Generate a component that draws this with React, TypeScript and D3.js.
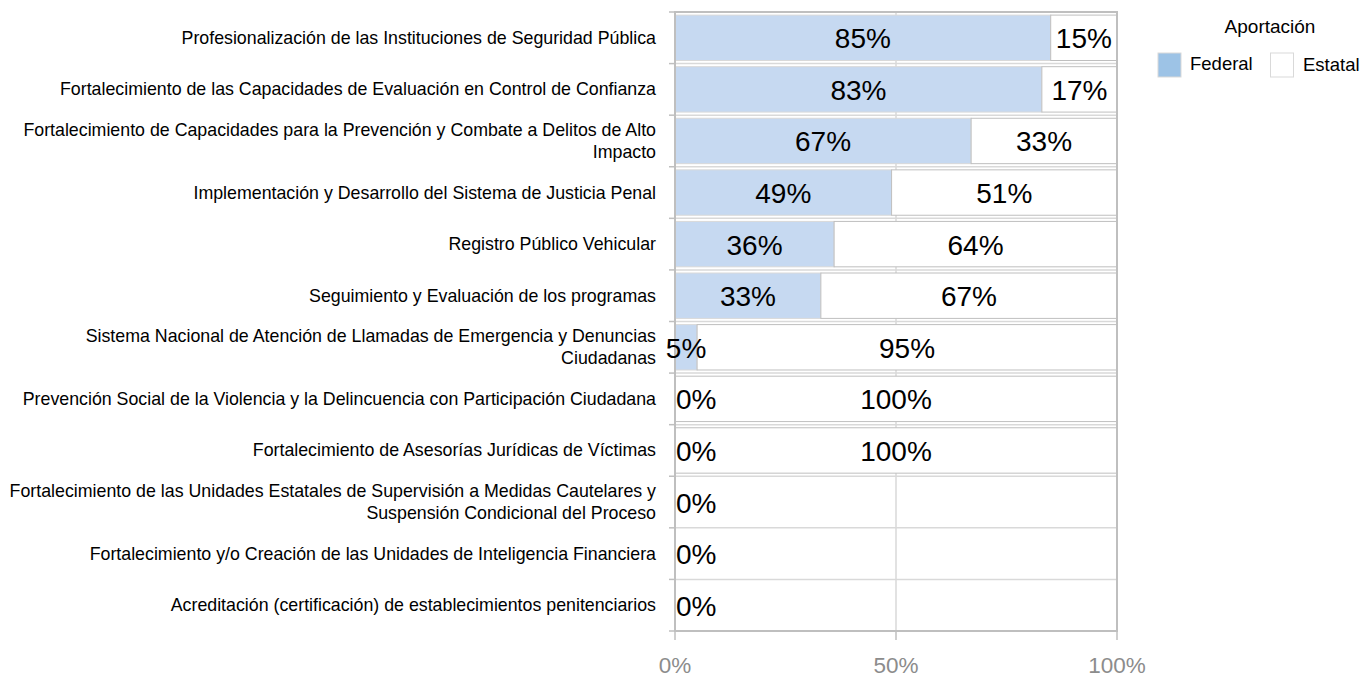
import React from "react";
import * as d3 from "d3";

const categories = [
  "Profesionalización de las Instituciones de Seguridad Pública",
  "Fortalecimiento de las Capacidades de Evaluación en Control de Confianza",
  "Fortalecimiento de Capacidades para la Prevención y Combate a Delitos de Alto\nImpacto",
  "Implementación y Desarrollo del Sistema de Justicia Penal",
  "Registro Público Vehicular",
  "Seguimiento y Evaluación de los programas",
  "Sistema Nacional de Atención de Llamadas de Emergencia y Denuncias\nCiudadanas",
  "Prevención Social de la Violencia y la Delincuencia con Participación Ciudadana",
  "Fortalecimiento de Asesorías Jurídicas de Víctimas",
  "Fortalecimiento de las Unidades Estatales de Supervisión a Medidas Cautelares y\nSuspensión Condicional del Proceso",
  "Fortalecimiento y/o Creación de las Unidades de Inteligencia Financiera",
  "Acreditación (certificación) de establecimientos penitenciarios",
];
const federal = [85, 83, 67, 49, 36, 33, 5, 0, 0, 0, 0, 0];
const estatal = [15, 17, 33, 51, 64, 67, 95, 100, 100, 0, 0, 0];
const xTicks = [0, 50, 100];
const seriesNames = ["Federal", "Estatal"];
const legendTitle = "Aportación";

const W = 1362;
const H = 677;
const margin = { left: 675, right: 1117, top: 12, bottom: 631 };
const FONT = "'Liberation Sans', Arial, sans-serif";
const GRID = "#d9d9d9";
const AXIS = "#bfbfbf";
const FED_FILL = "#c6d9f1";
const LEGEND_FED = "#9dc3e6";

export default function App() {
  const x = d3.scaleLinear().domain([0, 100]).range([margin.left, margin.right]);
  const y = d3
    .scaleBand<string>()
    .domain(categories)
    .range([margin.top, margin.bottom])
    .paddingInner(0.12)
    .paddingOuter(0.06);
  const step = y.step();
  const boundaries = d3.range(categories.length + 1).map((i) => margin.top + i * step);
  const fmt = (v: number) => `${v}%`;

  const rows = categories.map((c, i) => ({ c, f: federal[i], e: estatal[i] }));

  return (
    <svg
      width={W}
      height={H}
      style={{ position: "absolute", left: 0, top: 0, background: "#fff" }}
      fontFamily={FONT}
    >
      {/* gridlines */}
      {boundaries.slice(1, -1).map((b, i) => (
        <line key={"h" + i} x1={margin.left} x2={margin.right} y1={b} y2={b} stroke={GRID} strokeWidth={1.5} />
      ))}
      {xTicks.slice(1, -1).map((t) => (
        <line key={"v" + t} x1={x(t)} x2={x(t)} y1={margin.top} y2={margin.bottom} stroke={GRID} strokeWidth={1.5} />
      ))}

      {/* bars */}
      {rows.map((r) => {
        const by = y(r.c)!;
        const bh = y.bandwidth();
        return (
          <g key={r.c}>
            {r.f > 0 && (
              <rect x={x(0)} y={by} width={x(r.f) - x(0)} height={bh} fill={FED_FILL} stroke={GRID} strokeWidth={1} />
            )}
            {r.e > 0 && (
              <rect x={x(r.f)} y={by} width={x(r.f + r.e) - x(r.f)} height={bh} fill="#ffffff" stroke={AXIS} strokeWidth={1} />
            )}
          </g>
        );
      })}

      {/* plot border */}
      <rect
        x={margin.left}
        y={margin.top}
        width={margin.right - margin.left}
        height={margin.bottom - margin.top}
        fill="none"
        stroke={AXIS}
        strokeWidth={2}
      />
      {/* y ticks */}
      {boundaries.map((b, i) => (
        <line key={"yt" + i} x1={margin.left - 6} x2={margin.left} y1={b} y2={b} stroke={AXIS} strokeWidth={1.5} />
      ))}
      {/* x ticks */}
      {xTicks.map((t) => (
        <g key={"xt" + t}>
          <line x1={x(t)} x2={x(t)} y1={margin.bottom} y2={margin.bottom + 9} stroke={AXIS} strokeWidth={1.5} />
          <text x={x(t)} y={673} textAnchor="middle" fontSize={22.5} fill="#8c8c8c">
            {fmt(t)}
          </text>
        </g>
      ))}

      {/* data labels */}
      {rows.map((r) => {
        const cy = y(r.c)! + y.bandwidth() / 2 + 1;
        return (
          <g key={"lab" + r.c} fontSize={28} fill="#000">
            {r.f > 0 ? (
              <text x={(x(0) + x(r.f)) / 2} y={cy} textAnchor="middle" dominantBaseline="central">
                {fmt(r.f)}
              </text>
            ) : (
              <text x={x(0) + 1} y={cy} textAnchor="start" dominantBaseline="central">
                {fmt(r.f)}
              </text>
            )}
            {r.e > 0 && (
              <text x={(x(r.f) + x(r.f + r.e)) / 2} y={cy} textAnchor="middle" dominantBaseline="central">
                {fmt(r.e)}
              </text>
            )}
          </g>
        );
      })}

      {/* category labels */}
      {categories.map((c) => {
        const lines = c.split("\n");
        const cy = y(c)! + y.bandwidth() / 2;
        const lh = 22;
        return (
          <text key={"cat" + c} x={656} textAnchor="end" fontSize={17.8} fill="#000">
            {lines.map((l, j) => (
              <tspan key={j} x={656} y={cy + (j - (lines.length - 1) / 2) * lh} dominantBaseline="central">
                {l}
              </tspan>
            ))}
          </text>
        );
      })}

      {/* legend */}
      <g>
        <text x={1270} y={33} textAnchor="middle" fontSize={19} fill="#000">
          {legendTitle}
        </text>
        <rect x={1158} y={53} width={23} height={24} fill={LEGEND_FED} stroke="#d9d9d9" strokeWidth={1} />
        <text x={1190} y={70} fontSize={18.5} fill="#000">
          {seriesNames[0]}
        </text>
        <rect x={1270.5} y={53} width={23} height={24} fill="#ffffff" stroke="#d9d9d9" strokeWidth={1} />
        <text x={1303} y={71} fontSize={18.5} fill="#000">
          {seriesNames[1]}
        </text>
      </g>
    </svg>
  );
}
